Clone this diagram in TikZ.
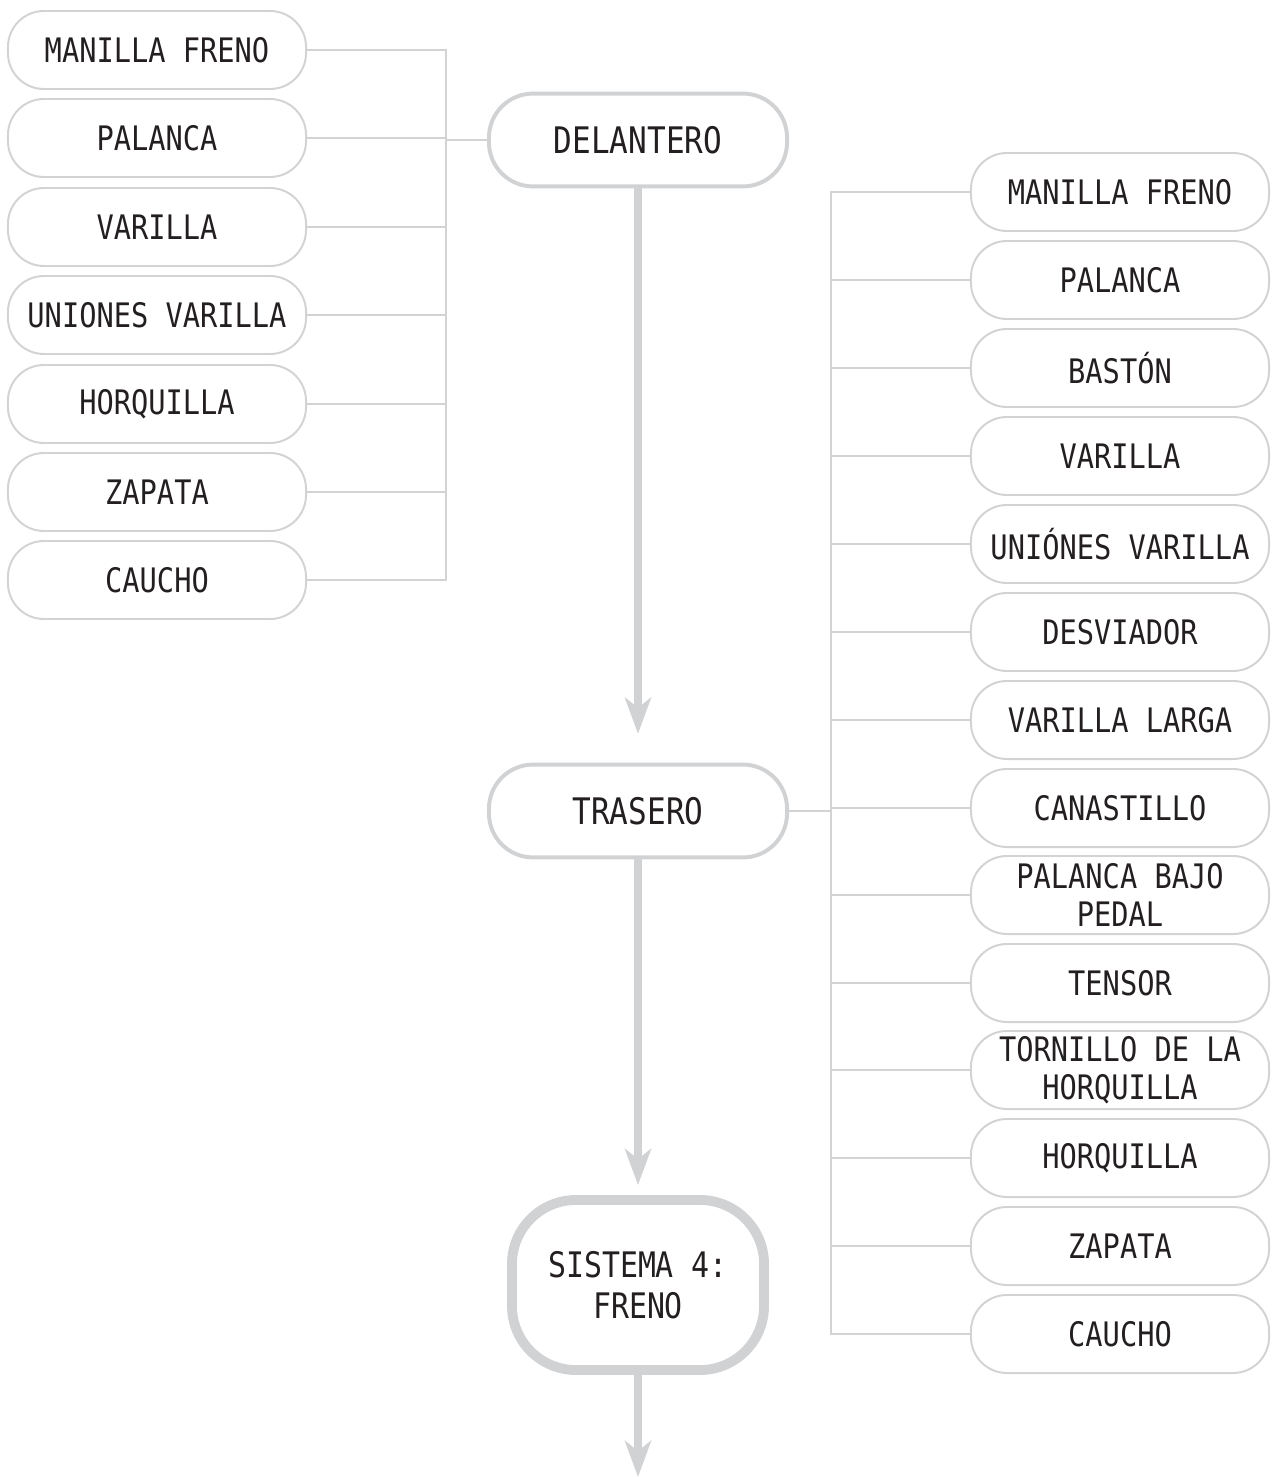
\documentclass[tikz,border=0pt]{standalone}
\usepackage{fontspec}
\usetikzlibrary{arrows.meta}
\newfontfamily\boxfont[FakeStretch=0.85]{DejaVu Sans Mono}
\definecolor{linegray}{HTML}{D3D3D3}
\definecolor{flowgray}{HTML}{D1D2D4}
\definecolor{inkgray}{HTML}{231F20}

\begin{document}
\begin{tikzpicture}[
    x=0.025cm, y=-0.025cm,
    part/.style={draw=linegray, line width=1.4pt, rounded corners=0.9cm,
        minimum width=7.45cm, minimum height=1.95cm, inner sep=0pt,
        align=center, text=inkgray, font=\boxfont\fontsize{24}{27}\selectfont},
    group/.style={part, draw=flowgray, line width=2.8pt, rounded corners=1.1cm,
        minimum width=7.45cm, minimum height=2.32cm,
        font=\boxfont\fontsize{26}{29}\selectfont},
    system/.style={part, draw=flowgray, line width=7pt, rounded corners=1.6cm,
        minimum width=6.3cm, minimum height=4.25cm,
        font=\boxfont\fontsize{25}{29}\selectfont},
    link/.style={draw=linegray, line width=1.4pt},
    flow/.style={draw=flowgray, line width=5pt,
        -{Stealth[length=0.9cm, width=0.65cm, inset=0.25cm]}}
]
    \useasboundingbox (0,0) rectangle (1274,1477);

    % main flow
    \node[group] (del) at (638,140) {DELANTERO};
    \node[group] (tra) at (638,811) {TRASERO};
    \node[system] (sis) at (638,1285) {SISTEMA 4:\\FRENO};
    \coordinate (fin) at (638,1477);
    \draw[flow, shorten >=0.72cm] (del) -- (tra);
    \draw[flow, shorten >=0.25cm] (tra) -- (sis);
    \draw[flow] (sis) -- (fin);

    % front parts
    \node[part] (l1) at (157,50) {MANILLA FRENO};
    \node[part] (l2) at (157,138) {PALANCA};
    \node[part] (l3) at (157,227) {VARILLA};
    \node[part] (l4) at (157,315) {UNIONES VARILLA};
    \node[part] (l5) at (157,404) {HORQUILLA};
    \node[part] (l6) at (157,492) {ZAPATA};
    \node[part] (l7) at (157,580) {CAUCHO};
    \coordinate (lbus) at (446,140);
    \draw[link] (lbus) -- (del.west);
    \draw[link] (l1.east) -| (lbus);
    \draw[link] (l2.east) -| (lbus);
    \draw[link] (l3.east) -| (lbus);
    \draw[link] (l4.east) -| (lbus);
    \draw[link] (l5.east) -| (lbus);
    \draw[link] (l6.east) -| (lbus);
    \draw[link] (l7.east) -| (lbus);

    % rear parts
    \node[part] (r1) at (1120,192) {MANILLA FRENO};
    \node[part] (r2) at (1120,280) {PALANCA};
    \node[part] (r3) at (1120,368) {BASTÓN};
    \node[part] (r4) at (1120,456) {VARILLA};
    \node[part] (r5) at (1120,544) {UNIÓNES VARILLA};
    \node[part] (r6) at (1120,632) {DESVIADOR};
    \node[part] (r7) at (1120,720) {VARILLA LARGA};
    \node[part] (r8) at (1120,808) {CANASTILLO};
    \node[part] (r9) at (1120,895) {PALANCA BAJO\\PEDAL};
    \node[part] (r10) at (1120,983) {TENSOR};
    \node[part] (r11) at (1120,1070) {TORNILLO DE LA\\HORQUILLA};
    \node[part] (r12) at (1120,1158) {HORQUILLA};
    \node[part] (r13) at (1120,1246) {ZAPATA};
    \node[part] (r14) at (1120,1334) {CAUCHO};
    \coordinate (rbus) at (831,811);
    \draw[link] (tra.east) -- (rbus);
    \draw[link] (rbus) |- (r1.west);
    \draw[link] (rbus) |- (r2.west);
    \draw[link] (rbus) |- (r3.west);
    \draw[link] (rbus) |- (r4.west);
    \draw[link] (rbus) |- (r5.west);
    \draw[link] (rbus) |- (r6.west);
    \draw[link] (rbus) |- (r7.west);
    \draw[link] (rbus) |- (r8.west);
    \draw[link] (rbus) |- (r9.west);
    \draw[link] (rbus) |- (r10.west);
    \draw[link] (rbus) |- (r11.west);
    \draw[link] (rbus) |- (r12.west);
    \draw[link] (rbus) |- (r13.west);
    \draw[link] (rbus) |- (r14.west);
\end{tikzpicture}
\end{document}
